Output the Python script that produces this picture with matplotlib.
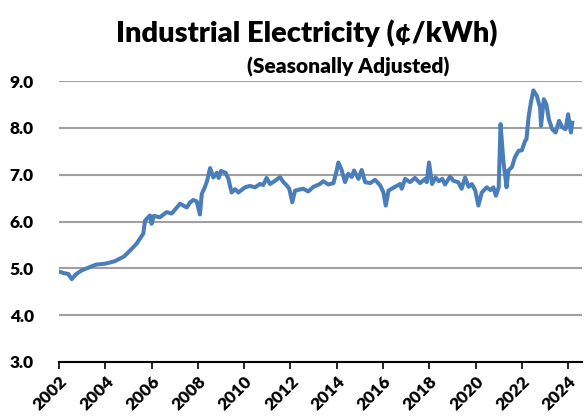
"""Industrial electricity price, seasonally adjusted (cents/kWh)."""
import matplotlib
matplotlib.use("Agg")
import matplotlib.pyplot as plt

# decimal year, price in cents/kWh
years = [
    2002.00, 2002.20, 2002.40, 2002.55, 2002.75, 2003.00, 2003.30, 2003.60,
    2004.00, 2004.40, 2004.80, 2005.07, 2005.36, 2005.64, 2005.72, 2005.93,
    2006.00, 2006.10, 2006.36, 2006.65, 2006.87, 2007.23, 2007.52, 2007.67,
    2007.80, 2007.95, 2008.09, 2008.17, 2008.30, 2008.40, 2008.53, 2008.67,
    2008.82, 2008.90, 2009.00, 2009.20, 2009.32, 2009.46, 2009.61, 2009.75,
    2010.04, 2010.25, 2010.47, 2010.68, 2010.83, 2010.97, 2011.12, 2011.34,
    2011.55, 2011.70, 2011.84, 2011.95, 2012.08, 2012.20, 2012.56, 2012.77,
    2012.99, 2013.27, 2013.42, 2013.64, 2013.86, 2014.00, 2014.07, 2014.20,
    2014.36, 2014.50, 2014.65, 2014.75, 2014.94, 2015.08, 2015.23, 2015.45,
    2015.66, 2015.88, 2016.02, 2016.12, 2016.24, 2016.52, 2016.74, 2016.81,
    2016.96, 2017.17, 2017.38, 2017.60, 2017.82, 2017.89, 2017.99, 2018.12,
    2018.27, 2018.41, 2018.56, 2018.68, 2018.90, 2019.04, 2019.25, 2019.40,
    2019.55, 2019.70, 2019.84, 2019.99, 2020.12, 2020.27, 2020.48, 2020.65,
    2020.77, 2020.88, 2020.98, 2021.00, 2021.08, 2021.20, 2021.34, 2021.42,
    2021.57, 2021.70, 2021.86, 2022.00, 2022.14, 2022.20, 2022.29, 2022.39,
    2022.50, 2022.65, 2022.79, 2022.83, 2022.95, 2023.06, 2023.17, 2023.31,
    2023.46, 2023.61, 2023.75, 2023.89, 2024.00, 2024.12, 2024.18,
]
price = [
    4.93, 4.90, 4.88, 4.77, 4.88, 4.96, 5.02, 5.08,
    5.10, 5.15, 5.25, 5.38, 5.53, 5.74, 6.02, 6.13,
    5.95, 6.12, 6.09, 6.20, 6.17, 6.38, 6.30, 6.41,
    6.46, 6.43, 6.15, 6.59, 6.73, 6.87, 7.14, 6.94,
    7.04, 6.93, 7.08, 7.04, 6.91, 6.62, 6.69, 6.62,
    6.73, 6.76, 6.73, 6.80, 6.78, 6.93, 6.80, 6.87,
    6.95, 6.84, 6.77, 6.70, 6.41, 6.66, 6.70, 6.64,
    6.74, 6.80, 6.86, 6.79, 6.82, 7.09, 7.26, 7.12,
    6.84, 7.02, 6.95, 7.09, 6.91, 7.10, 6.84, 6.82,
    6.89, 6.77, 6.62, 6.34, 6.66, 6.74, 6.80, 6.70,
    6.91, 6.84, 6.93, 6.82, 6.91, 6.84, 7.26, 6.80,
    6.94, 6.86, 6.91, 6.79, 6.96, 6.87, 6.84, 6.70,
    6.94, 6.74, 6.80, 6.66, 6.34, 6.62, 6.73, 6.67,
    6.73, 6.55, 6.70, 6.73, 8.08, 7.30, 6.73, 7.09,
    7.16, 7.37, 7.51, 7.52, 7.72, 7.76, 8.22, 8.54,
    8.80, 8.68, 8.43, 8.04, 8.61, 8.50, 8.18, 7.97,
    7.90, 8.15, 8.01, 7.97, 8.29, 7.90, 8.11,
]
y_ticks = [3.0, 4.0, 5.0, 6.0, 7.0, 8.0, 9.0]
x_ticks = list(range(2002, 2025, 2))

FONT = "Lato"
W, H = 587, 420

fig = plt.figure(figsize=(W / 100, H / 100), dpi=100)
ax = fig.add_axes([59 / W, 1 - 362 / H, (582 - 59) / W, (362 - 81) / H])

ax.plot(years, price, color="#4a7ebb", lw=2.9, solid_joinstyle="round")

ax.set_xlim(2002, 2024.6)
ax.set_ylim(3, 9)
ax.set_yticks(y_ticks)
ax.set_yticklabels([f"{v:.1f}" for v in y_ticks], fontfamily=FONT,
                   fontweight="heavy", fontsize=12.5)
ax.set_xticks(x_ticks)
ax.set_xticklabels([str(x) for x in x_ticks], fontfamily=FONT,
                   fontweight="heavy", fontsize=12.5, rotation=45,
                   ha="right", va="top", rotation_mode="anchor")
ax.tick_params(axis="y", length=0, pad=18)
ax.tick_params(axis="x", direction="out", length=5, width=1.2, pad=3)

ax.grid(axis="y", color="#a0a0a0", lw=1.5)
ax.set_axisbelow(True)
for side in ("left", "right", "top"):
    ax.spines[side].set_visible(False)
ax.spines["bottom"].set_linewidth(1.5)
ax.spines["bottom"].set_zorder(3)

fig.text(497 / W, 1 - 42 / H, "Industrial Electricity (\u00a2/kWh)",
         ha="right", va="baseline", fontfamily=FONT, fontweight="heavy",
         fontsize=21)
fig.text(348 / W, 1 - 74 / H, "(Seasonally Adjusted)", ha="center",
         va="baseline", fontfamily=FONT, fontweight="heavy", fontsize=15)

fig.savefig("out.png", dpi=100)
